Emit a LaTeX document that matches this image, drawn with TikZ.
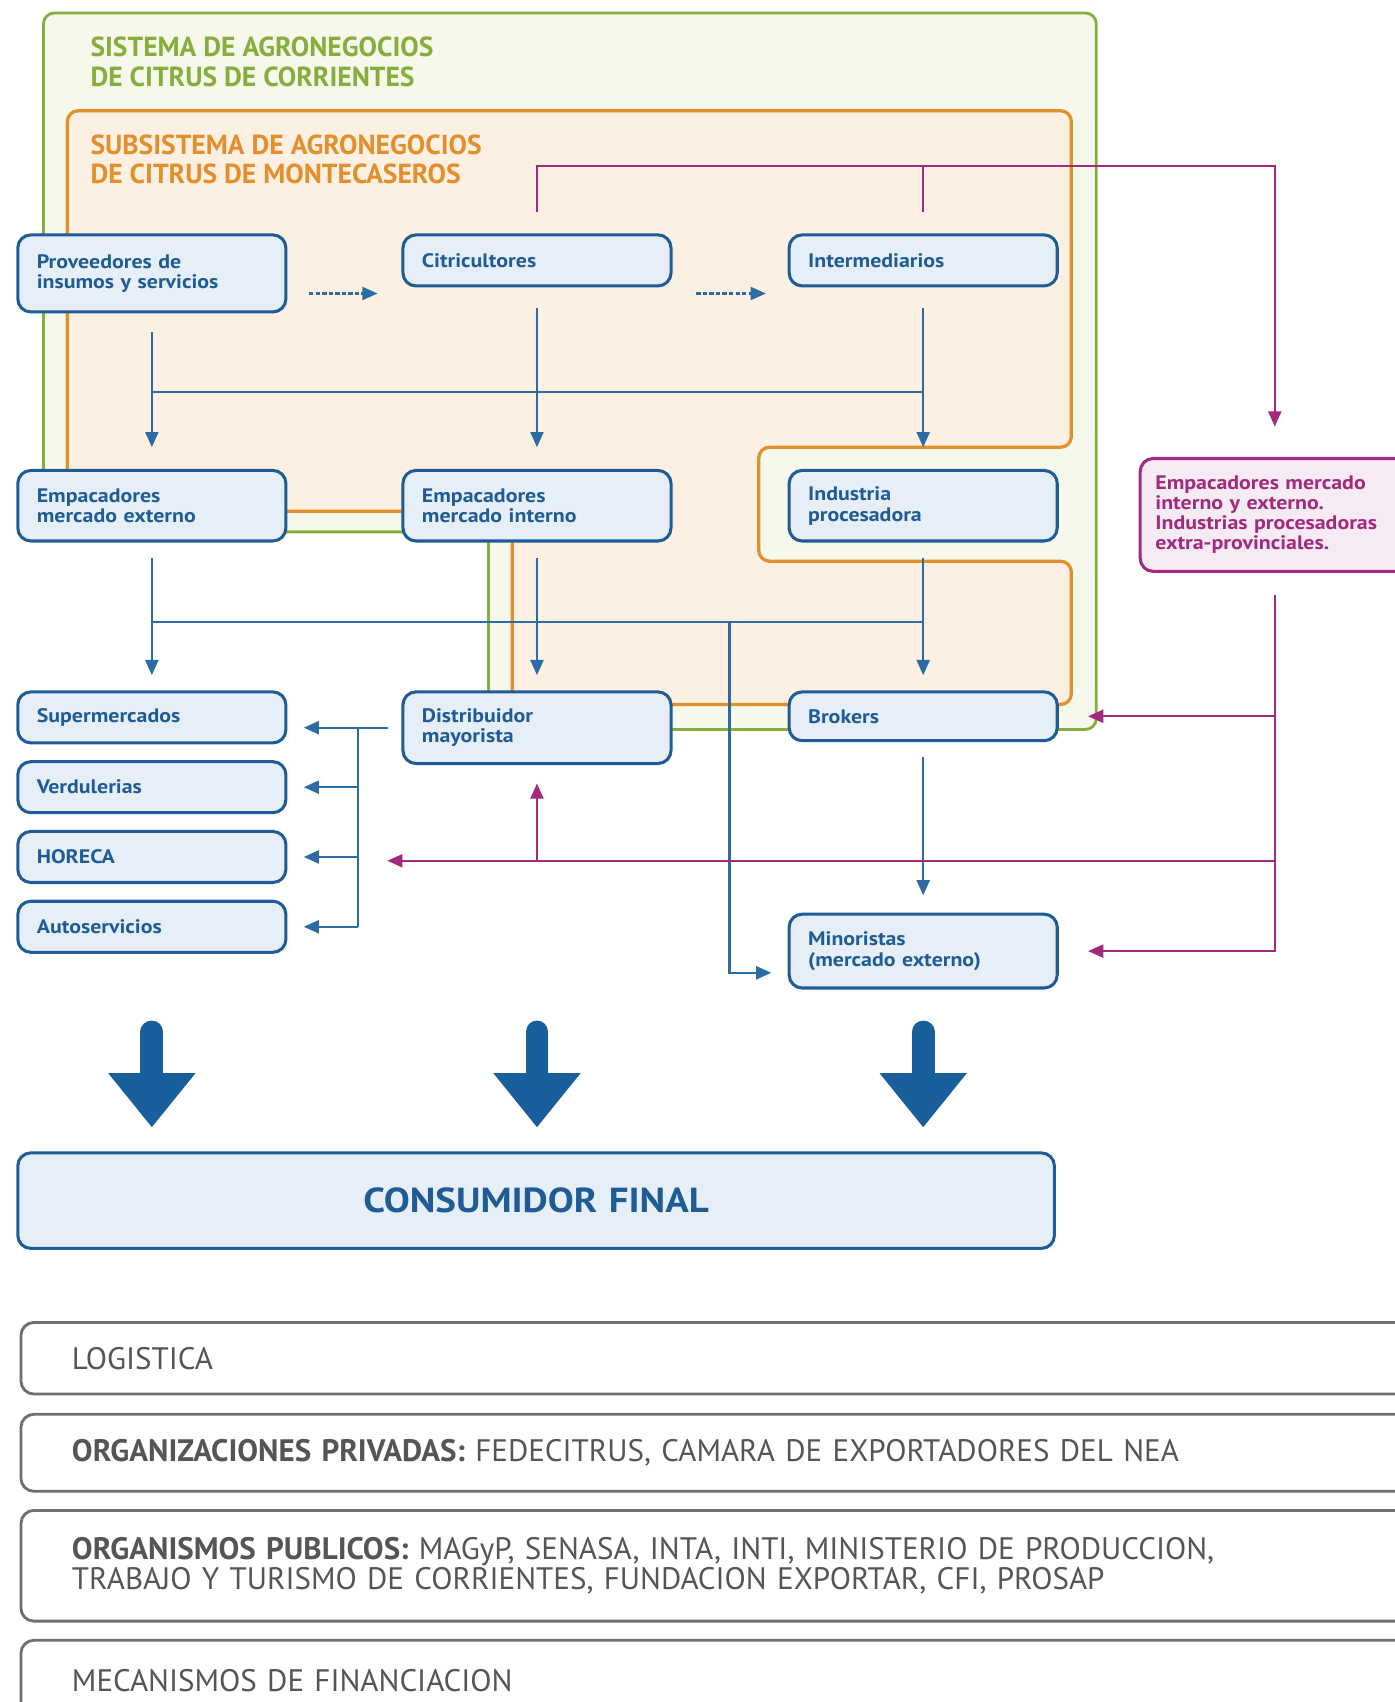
\documentclass[tikz,border=0pt]{standalone}
\usepackage{fontspec}
\setmainfont{PT Sans}
\newfontfamily\ancha[FakeStretch=1.12]{PT Sans}
\usetikzlibrary{positioning,arrows.meta,calc}

\definecolor{azulcaja}{HTML}{1F5C96}
\definecolor{fondocaja}{HTML}{E6EFF8}
\definecolor{azulflecha}{HTML}{2C6BA3}
\definecolor{azulgrande}{HTML}{195F9B}
\definecolor{verdesis}{HTML}{86AE3C}
\definecolor{fondoverde}{HTML}{F6F8EB}
\definecolor{naranjasub}{HTML}{E38F2C}
\definecolor{fondonaranja}{HTML}{FCF0E3}
\definecolor{moradoext}{HTML}{A3297F}
\definecolor{fondomorado}{HTML}{F7EBF3}
\definecolor{grisbarra}{HTML}{6F6F6F}
\definecolor{gristexto}{HTML}{555555}

\begin{document}
\begin{tikzpicture}[x=0.5pt, y=-0.5pt,
  caja/.style={rectangle, rounded corners=6pt, draw=azulcaja, line width=1.4pt, fill=fondocaja, text=azulcaja, font=\ancha\bfseries\fontsize{9}{9.5}\selectfont, align=left, text width=106pt, inner xsep=8pt, inner ysep=3pt, minimum width=123.5pt},
  barra/.style={rectangle, rounded corners=6pt, draw=grisbarra, line width=1.3pt, fill=white, text=gristexto, font=\fontsize{14.3}{14}\selectfont, align=left, text width=613pt, inner xsep=23.5pt, minimum width=660pt},
  titulo/.style={anchor=west, inner sep=0pt, align=left, font=\bfseries\fontsize{12.7}{13.5}\selectfont},
  sistema/.style={draw=verdesis, line width=1.3pt, fill=fondoverde, rounded corners=5pt},
  subsistema/.style={draw=naranjasub, line width=1.5pt, fill=fondonaranja, rounded corners=5pt},
  linea/.style={draw=azulflecha, line width=1pt},
  flujo/.style={linea, -{Triangle[length=7pt,width=6pt]}},
  vinculo/.style={draw=moradoext, line width=0.9pt},
  vinculoflecha/.style={vinculo, -{Triangle[length=7pt,width=6pt]}},
  flechagrande/.style={draw=azulgrande, line width=10.5pt, line cap=round, -{Triangle[length=25pt,width=38.5pt]}}]

\clip (0,0) rectangle (1285,1568);

% SISTEMAS

\draw[sistema] (40,12) -- (1010,12) -- (1010,672) -- (450,672) -- (450,490) -- (40,490) -- cycle;
\draw[subsistema] (62,102) -- (987,102) -- (987,412) -- (699,412) -- (699,517) -- (987,517) -- (987,649) -- (472,649) -- (472,471) -- (62,471) -- cycle;

\node[titulo, text=verdesis] (titulo-sistema) at (83,57) {SISTEMA DE AGRONEGOCIOS\\DE CITRUS DE CORRIENTES};
\node[titulo, text=naranjasub] (titulo-subsistema) at (83,147) {SUBSISTEMA DE AGRONEGOCIOS\\DE CITRUS DE MONTECASEROS};

% ACTORES

\node[caja, minimum height=35.5pt, anchor=north west] (prov) at (15,215) {Proveedores de\\insumos y servicios};
\node[caja, minimum height=23.5pt, right=52.5pt of prov.north east, anchor=north west] (citri) {Citricultores};
\node[caja, minimum height=23.5pt, right=53pt of citri.north east, anchor=north west] (inter) {Intermediarios};

\node[caja, minimum height=32.5pt, below=108.5pt of prov.north west, anchor=north west] (empext) {Empacadores\\mercado externo};
\node[caja, minimum height=32.5pt, below=108.5pt of citri.north west, anchor=north west] (empint) {Empacadores\\mercado interno};
\node[caja, minimum height=32.5pt, below=108.5pt of inter.north west, anchor=north west] (indus) {Industria\\procesadora};

\node[caja, minimum height=23.5pt, below=102pt of empext.north west, anchor=north west] (super) {Supermercados};
\node[caja, minimum height=23.5pt, below=7.25pt of super] (verdu) {Verdulerias};
\node[caja, minimum height=23.5pt, below=7.25pt of verdu] (horeca) {HORECA};
\node[caja, minimum height=23.5pt, below=7.25pt of horeca] (autos) {Autoservicios};

\node[caja, minimum height=33pt, below=102pt of empint.north west, anchor=north west] (distri) {Distribuidor\\mayorista};
\node[caja, minimum height=22.5pt, below=102pt of indus.north west, anchor=north west] (brokers) {Brokers};
\node[caja, minimum height=34pt, below=78.5pt of brokers] (minor) {Minoristas\\(mercado externo)};

\node[caja, draw=moradoext, fill=fondomorado, text=moradoext, font=\ancha\bfseries\fontsize{9}{9.2}\selectfont, text width=110pt, inner xsep=7pt, minimum width=122.5pt, minimum height=52pt, anchor=north west] (extra) at (1049,421) {Empacadores mercado\\interno y externo.\\Industrias procesadoras\\extra-provinciales.};

\node[caja, minimum width=477.5pt, minimum height=44pt, text width=460pt, align=center, font=\ancha\bfseries\fontsize{16}{18}\selectfont, below=91pt of autos.south west, anchor=north west] (consumidor) {CONSUMIDOR FINAL};

% APOYO

\node[barra, minimum height=33pt, anchor=north west] (logistica) at (18,1217) {LOGISTICA};
\node[barra, minimum height=35.5pt, below=8pt of logistica] (orgpriv) {\textbf{ORGANIZACIONES PRIVADAS:} FEDECITRUS, CAMARA DE EXPORTADORES DEL NEA};
\node[barra, minimum height=51pt, below=7.5pt of orgpriv] (orgpub) {\textbf{ORGANISMOS PUBLICOS:} MAGyP, SENASA, INTA, INTI, MINISTERIO DE PRODUCCION,\\TRABAJO Y TURISMO DE CORRIENTES, FUNDACION EXPORTAR, CFI, PROSAP};
\node[barra, minimum height=37pt, below=7.5pt of orgpub] (financ) {MECANISMOS DE FINANCIACION};

% FLUJOS

\coordinate (nivel1) at (0,361);
\coordinate (nivel2) at (0,573);
\coordinate (nivelm) at (0,153);
\coordinate (nivelh) at (0,793);

\draw[flujo, dash pattern=on 2pt off 1pt] ([shift={(20,18.5)}]prov.east) -- ([shift={(-22,18.5)}]prov.east -| citri.west);
\draw[flujo, dash pattern=on 2pt off 1pt] ([shift={(22,18.5)}]prov.east -| citri.east) -- ([shift={(-20,18.5)}]prov.east -| inter.west);

\draw[flujo] ([yshift=-8.5pt]prov.south) -- ([yshift=10pt]empext.north);
\draw[flujo] ([yshift=-9.5pt]citri.south) -- ([yshift=10pt]empint.north);
\draw[flujo] ([yshift=-9.5pt]inter.south) -- ([yshift=10pt]indus.north);
\draw[linea] (prov.south |- nivel1) -- (inter.south |- nivel1);

\draw[flujo] ([yshift=-7pt]empext.south) -- ([yshift=7pt]super.north);
\draw[flujo] ([yshift=-7pt]empint.south) -- ([yshift=7pt]distri.north);
\draw[flujo] ([yshift=-7pt]indus.south) -- ([yshift=7pt]brokers.north);
\draw[linea] (empext.south |- nivel2) -- (indus.south |- nivel2);

\coordinate (ramal) at (672,573);
\draw[flujo] (ramal) |- ([shift={(-15,20)}]minor.west);
\draw[flujo] ([yshift=-7pt]brokers.south) -- ([yshift=8pt]minor.north);

\draw[linea] ([xshift=-6pt]distri.west) -- ([xshift=-20pt]distri.west) coordinate (reparto);
\draw[linea] (reparto) -- (reparto |- autos.east);
\draw[flujo] (reparto) -- ([xshift=7.5pt]super.east |- reparto);
\foreach \dest in {verdu,horeca,autos}
  \draw[flujo] (reparto |- \dest.east) -- ([xshift=7.5pt]\dest.east);

% VINCULOS EXTRA-PROVINCIALES

\draw[vinculoflecha] ([yshift=10pt]citri.north) |- (extra.north |- nivelm) -- ([yshift=14pt]extra.north);
\draw[vinculo] ([yshift=10pt]inter.north) -- (inter.north |- nivelm);
\draw[vinculoflecha] ([yshift=-10pt]extra.south) |- ([xshift=13.5pt]minor.east);
\draw[vinculoflecha] (extra.south |- brokers.east) -- ([xshift=13.5pt]brokers.east);
\draw[vinculoflecha] (extra.south |- nivelh) -- ([xshift=-6.5pt]distri.west |- nivelh);
\draw[vinculoflecha] (distri.south |- nivelh) -- ([yshift=-8.5pt]distri.south);

% CONSUMO

\foreach \col in {prov,citri,inter}
  \draw[flechagrande] ($(\col.south |- autos.south)+(0,72)$) -- ($(\col.south |- consumidor.north)+(0,-22)$);

\end{tikzpicture}
\end{document}
